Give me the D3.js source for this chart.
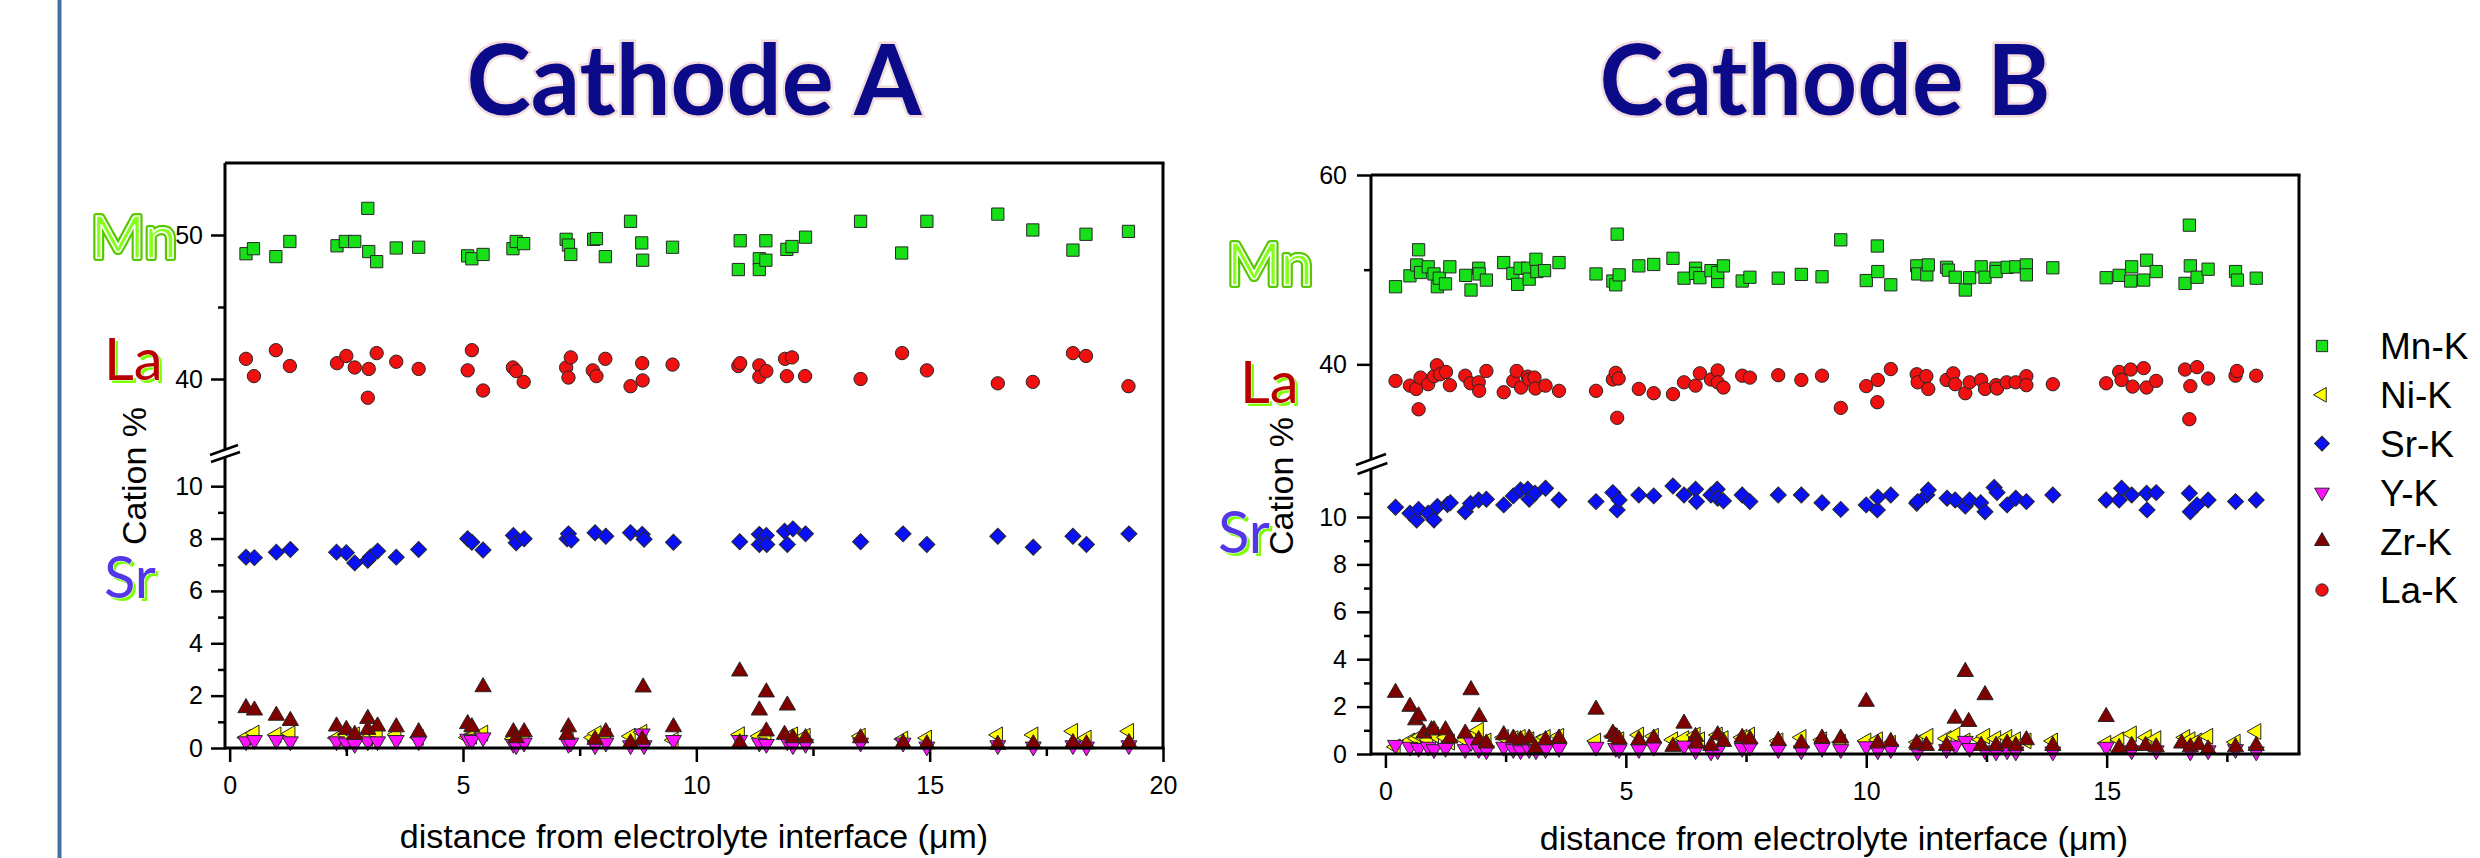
<!DOCTYPE html>
<html>
<head>
<meta charset="utf-8">
<script src="https://cdn.jsdelivr.net/npm/d3@7"></script>
<style>
  html, body { margin: 0; padding: 0; background: #fff; }
  svg { display: block; }
</style>
</head>
<body>
<svg id="chart" width="2480" height="858"></svg>
<script>
// ---- Cathode A (x in µm, cation %) ----
const aMn = [[0.35,48.7],[0.51,49.05],[0.99,48.5],[1.29,49.55],[2.30,49.25],[2.48,49.55],[2.68,49.55],[2.96,51.85],[2.98,48.85],[3.15,48.15],[3.57,49.1],[4.05,49.15],[5.10,48.55],[5.19,48.35],[5.43,48.65],[6.07,49.05],[6.14,49.55],[6.30,49.4],[7.21,49.7],[7.26,49.3],[7.31,48.65],[7.80,49.7],[7.86,49.75],[8.05,48.5],[8.59,50.95],[8.83,49.45],[8.85,48.25],[9.49,49.15],[10.94,49.6],[10.90,47.6],[11.35,48.35],[11.35,47.6],[11.49,49.6],[11.49,48.25],[11.94,49.0],[12.05,49.2],[12.34,49.85],[13.52,50.95],[14.40,48.75],[14.94,50.95],[16.46,51.45],[17.21,50.35],[18.07,48.95],[18.35,50.05],[19.26,50.25]]
const aLa = [[0.35,41.4],[0.52,40.2],[0.99,42.0],[1.29,40.9],[2.30,41.1],[2.50,41.6],[2.68,40.8],[2.96,38.7],[2.98,40.7],[3.15,41.8],[3.57,41.2],[4.05,40.7],[5.10,40.6],[5.19,42.0],[5.43,39.2],[6.07,40.8],[6.14,40.55],[6.30,39.8],[7.21,40.8],[7.26,40.1],[7.31,41.5],[7.78,40.6],[7.86,40.2],[8.05,41.4],[8.59,39.5],[8.84,41.1],[8.85,39.9],[9.49,41.0],[10.90,40.9],[10.94,41.1],[11.35,40.95],[11.35,40.15],[11.50,40.55],[11.90,41.4],[11.94,40.2],[12.05,41.5],[12.33,40.2],[13.52,40.0],[14.41,41.8],[14.94,40.6],[16.46,39.7],[17.21,39.8],[18.07,41.8],[18.35,41.6],[19.26,39.5]]
const aSr = [[0.35,7.29],[0.53,7.27],[1.00,7.48],[1.30,7.58],[2.29,7.48],[2.50,7.46],[2.68,7.07],[2.96,7.17],[3.02,7.30],[3.17,7.52],[3.57,7.29],[4.05,7.58],[5.10,7.99],[5.19,7.86],[5.43,7.56],[6.08,8.12],[6.14,7.84],[6.31,7.99],[7.23,7.99],[7.26,8.18],[7.32,7.94],[7.83,8.22],[8.06,8.09],[8.59,8.22],[8.84,8.16],[8.88,7.97],[9.51,7.86],[10.93,7.88],[11.35,8.16],[11.35,7.77],[11.50,8.12],[11.51,7.77],[11.89,8.28],[11.95,7.77],[12.07,8.37],[12.34,8.18],[13.52,7.88],[14.43,8.18],[14.94,7.77],[16.46,8.09],[17.22,7.67],[18.07,8.09],[18.36,7.77],[19.27,8.18]]
const aNi = [[0.35,0.40],[0.53,0.57],[1.00,0.50],[1.30,0.55],[2.29,0.38],[2.50,0.51],[2.68,0.50],[2.96,0.38],[3.17,0.50],[3.57,0.51],[4.05,0.40],[5.10,0.40],[5.19,0.45],[5.43,0.57],[6.08,0.35],[6.31,0.40],[7.26,0.35],[7.78,0.40],[7.86,0.55],[8.06,0.45],[8.59,0.45],[8.84,0.60],[9.51,0.30],[10.93,0.51],[11.35,0.45],[11.50,0.45],[11.95,0.40],[12.07,0.50],[12.34,0.45],[13.52,0.45],[14.43,0.34],[14.94,0.38],[16.46,0.50],[17.22,0.50],[18.07,0.64],[18.36,0.38],[19.27,0.64]]
const aY = [[0.35,0.25],[0.53,0.30],[1.00,0.30],[1.30,0.25],[2.29,0.25],[2.50,0.20],[2.68,0.15],[2.96,0.25],[3.17,0.25],[3.57,0.30],[4.05,0.25],[5.10,0.35],[5.19,0.30],[5.43,0.40],[6.08,0.15],[6.14,0.10],[6.31,0.20],[7.26,0.15],[7.31,0.20],[7.83,0.10],[8.06,0.20],[8.59,0.10],[8.84,0.55],[8.88,0.10],[9.51,0.30],[10.93,0.30],[11.35,0.20],[11.50,0.15],[11.95,0.25],[12.07,0.10],[12.34,0.15],[13.52,0.20],[14.43,0.20],[14.94,0.05],[16.46,0.10],[17.22,0.05],[18.07,0.10],[18.36,0.05],[19.27,0.10]]
const aZr = [[0.35,1.53],[0.53,1.44],[1.00,1.24],[1.30,1.04],[2.29,0.83],[2.50,0.70],[2.68,0.51],[2.96,1.12],[2.96,0.70],[3.17,0.83],[3.57,0.80],[4.05,0.61],[5.10,0.92],[5.19,0.80],[5.43,2.33],[6.08,0.61],[6.14,0.38],[6.31,0.61],[7.26,0.80],[7.23,0.51],[7.83,0.32],[8.06,0.61],[8.59,0.19],[8.84,0.32],[8.86,2.32],[9.51,0.80],[10.93,2.93],[10.93,0.19],[11.35,1.44],[11.50,2.13],[11.50,0.64],[11.89,0.51],[11.95,1.63],[12.07,0.38],[12.34,0.38],[13.52,0.38],[14.43,0.19],[14.94,0.15],[16.46,0.13],[17.22,0.15],[18.07,0.19],[18.36,0.15],[19.27,0.19]]

// ---- Cathode B ----
const bMn = [[0.21,48.2],[0.51,49.35],[0.65,50.5],[0.69,52.1],[0.73,49.7],[0.89,50.3],[1.01,49.55],[1.08,48.2],[1.12,49.1],[1.25,48.5],[1.34,50.3],[1.67,49.4],[1.78,47.85],[1.94,50.15],[1.95,49.55],[2.10,48.9],[2.46,50.75],[2.65,49.6],[2.75,48.45],[2.80,50.15],[2.96,50.15],[2.99,49.0],[3.13,51.1],[3.15,49.8],[3.31,49.9],[3.61,50.75],[4.38,49.55],[4.73,48.8],[4.79,48.4],[4.82,53.75],[4.86,49.45],[5.27,50.4],[5.58,50.55],[5.98,51.2],[6.21,49.1],[6.45,50.15],[6.45,49.6],[6.54,49.15],[6.77,49.9],[6.91,48.75],[6.91,49.7],[7.03,50.4],[7.42,48.8],[7.58,49.2],[8.17,49.1],[8.65,49.5],[9.08,49.25],[9.47,53.15],[10.00,48.85],[10.23,52.5],[10.24,49.8],[10.51,48.4],[11.05,50.4],[11.07,49.55],[11.26,49.45],[11.29,50.5],[11.67,50.25],[11.71,49.95],[11.85,49.2],[12.06,47.85],[12.15,49.15],[12.39,50.3],[12.47,49.2],[12.70,50.15],[12.70,49.8],[12.93,50.25],[13.11,50.3],[13.33,50.5],[13.33,49.45],[13.88,50.2],[14.99,49.15],[15.26,49.4],[15.50,48.8],[15.52,50.3],[15.77,48.9],[15.83,51.0],[16.03,49.8],[16.63,48.55],[16.72,54.7],[16.74,50.4],[16.88,49.2],[17.11,50.05],[17.68,49.8],[17.72,48.9],[18.11,49.1]]
const bLa = [[0.21,38.25],[0.51,37.75],[0.64,37.4],[0.69,35.25],[0.73,38.6],[0.89,37.9],[1.01,38.75],[1.07,39.9],[1.14,38.95],[1.26,39.2],[1.34,37.8],[1.66,38.8],[1.77,38.0],[1.94,38.1],[1.95,37.2],[2.10,39.3],[2.46,37.05],[2.66,38.25],[2.73,39.3],[2.82,37.55],[2.96,38.7],[2.99,38.4],[3.10,38.6],[3.12,37.45],[3.33,37.75],[3.61,37.2],[4.38,37.2],[4.73,38.4],[4.79,39.1],[4.82,34.35],[4.85,38.5],[5.27,37.4],[5.58,36.95],[5.98,36.85],[6.21,38.1],[6.45,37.75],[6.54,39.05],[6.77,38.4],[6.91,39.35],[6.91,38.1],[7.03,37.55],[7.42,38.8],[7.58,38.6],[8.17,38.85],[8.65,38.35],[9.08,38.8],[9.47,35.4],[10.00,37.7],[10.23,36.0],[10.24,38.35],[10.51,39.5],[11.05,38.95],[11.07,38.1],[11.25,38.75],[11.29,37.4],[11.67,38.35],[11.81,39.05],[11.85,37.9],[12.06,36.95],[12.15,38.1],[12.39,38.35],[12.47,37.4],[12.70,37.8],[12.72,37.45],[12.92,38.1],[13.11,38.1],[13.33,38.75],[13.33,37.8],[13.88,37.9],[14.99,38.0],[15.26,39.2],[15.31,38.35],[15.50,39.45],[15.54,37.65],[15.77,39.6],[15.83,37.55],[16.03,38.25],[16.63,39.45],[16.72,34.2],[16.74,37.7],[16.88,39.7],[17.11,38.5],[17.68,38.8],[17.71,39.3],[18.11,38.8]]
const bSr = [[0.21,10.41],[0.51,10.16],[0.65,9.87],[0.69,10.32],[0.89,10.16],[1.01,9.87],[1.08,10.44],[1.29,10.53],[1.35,10.6],[1.66,10.22],[1.77,10.57],[1.94,10.72],[2.10,10.75],[2.46,10.51],[2.66,10.89],[2.81,11.14],[2.96,11.17],[2.99,10.75],[3.11,11.0],[3.33,11.21],[3.61,10.72],[4.38,10.65],[4.73,11.03],[4.82,10.30],[4.86,10.72],[5.27,10.93],[5.58,10.89],[5.98,11.31],[6.21,10.93],[6.45,11.17],[6.47,10.65],[6.77,10.93],[6.90,11.17],[6.91,10.79],[7.03,10.68],[7.42,10.93],[7.58,10.65],[8.17,10.93],[8.65,10.93],[9.08,10.6],[9.47,10.32],[10.00,10.51],[10.23,10.30],[10.24,10.83],[10.51,10.93],[11.05,10.58],[11.07,10.65],[11.26,10.93],[11.29,11.14],[11.68,10.79],[11.85,10.72],[12.06,10.46],[12.15,10.72],[12.38,10.6],[12.47,10.22],[12.66,11.25],[12.72,11.03],[12.93,10.51],[13.11,10.79],[13.33,10.65],[13.88,10.93],[14.99,10.72],[15.26,10.72],[15.31,11.21],[15.52,10.93],[15.83,11.0],[15.84,10.3],[16.03,11.03],[16.72,11.0],[16.74,10.22],[16.88,10.51],[17.11,10.72],[17.68,10.65],[18.11,10.72]]
const bNi = [[0.21,0.30],[0.51,0.55],[0.65,0.65],[0.73,0.75],[0.89,0.60],[1.01,0.80],[1.25,0.70],[1.34,0.50],[1.66,0.60],[1.78,0.75],[1.94,1.00],[2.10,0.55],[2.46,0.70],[2.66,0.65],[2.81,0.70],[2.99,0.60],[3.13,0.50],[3.33,0.70],[3.61,0.75],[4.38,0.55],[4.73,0.75],[4.86,0.60],[5.27,0.80],[5.58,0.75],[5.98,0.60],[6.21,0.65],[6.45,0.80],[6.54,0.60],[6.91,0.80],[7.03,0.65],[7.42,0.70],[7.58,0.80],[8.17,0.55],[8.65,0.70],[9.08,0.60],[9.47,0.50],[10.00,0.55],[10.24,0.60],[10.51,0.45],[11.07,0.50],[11.29,0.75],[11.67,0.65],[11.85,0.80],[12.06,0.55],[12.39,0.60],[12.47,0.75],[12.70,0.65],[12.93,0.70],[13.11,0.60],[13.33,0.55],[13.88,0.55],[14.99,0.45],[15.26,0.60],[15.52,0.85],[15.83,0.70],[16.03,0.65],[16.63,0.70],[16.74,0.60],[16.88,0.55],[17.11,0.75],[17.68,0.50],[18.11,0.95]]
const bY = [[0.21,0.38],[0.51,0.30],[0.69,0.25],[0.89,0.30],[1.01,0.20],[1.25,0.25],[1.66,0.20],[1.78,0.50],[1.94,0.20],[2.10,0.15],[2.46,0.30],[2.66,0.20],[2.81,0.15],[2.99,0.20],[3.13,0.15],[3.33,0.20],[3.61,0.25],[4.38,0.30],[4.79,0.25],[4.86,0.20],[5.27,0.20],[5.58,0.30],[6.21,0.35],[6.45,0.15],[6.77,0.10],[6.91,0.15],[7.42,0.25],[7.58,0.30],[8.17,0.20],[8.65,0.15],[9.08,0.25],[9.47,0.20],[10.00,0.32],[10.24,0.15],[10.51,0.20],[11.07,0.10],[11.67,0.20],[11.85,0.35],[12.06,0.55],[12.15,0.25],[12.47,0.15],[12.70,0.10],[12.93,0.15],[13.11,0.10],[13.88,0.10],[14.99,0.30],[15.52,0.15],[16.03,0.15],[16.74,0.10],[17.11,0.15],[17.68,0.20],[18.11,0.10]]
const bZr = [[0.21,2.59],[0.51,2.0],[0.63,1.43],[0.69,1.60],[0.80,0.87],[0.96,1.01],[1.01,1.01],[1.25,1.01],[1.34,0.66],[1.66,0.87],[1.78,2.70],[1.95,1.57],[1.94,0.59],[2.10,0.45],[2.46,0.80],[2.66,0.66],[2.81,0.59],[2.99,0.66],[3.12,0.24],[3.33,0.59],[3.61,0.66],[4.38,1.88],[4.73,0.87],[4.79,0.73],[4.86,0.62],[5.27,0.59],[5.58,0.66],[5.98,0.31],[6.21,1.29],[6.45,0.73],[6.47,0.45],[6.77,0.35],[6.91,0.80],[7.03,0.52],[7.42,0.69],[7.58,0.62],[8.17,0.56],[8.65,0.45],[9.08,0.66],[9.47,0.66],[10.00,2.21],[10.24,0.45],[10.51,0.52],[11.07,0.38],[11.05,0.45],[11.25,0.35],[11.67,0.35],[11.85,1.50],[12.06,3.47],[12.13,1.36],[12.39,0.35],[12.47,2.49],[12.70,0.35],[12.93,0.45],[13.11,0.35],[13.33,0.59],[13.88,0.35],[14.99,1.57],[15.26,0.26],[15.52,0.35],[15.81,0.35],[16.03,0.29],[16.56,0.45],[16.74,0.29],[16.91,0.38],[17.11,0.20],[17.68,0.29],[18.11,0.35]]

// ---- axis ticks and labels ----
const xTicksA = [0, 5, 10, 15, 20], xTicksB = [0, 5, 10, 15]
const xMinor = [2.5, 7.5, 12.5, 17.5]
const upTicksA = [40, 50], upMinorA = [45]
const upTicksB = [40, 60], upMinorB = [50]
const loTicks = [0, 2, 4, 6, 8, 10]
const loMinorA = [1, 3, 5, 7, 9], loMinorB = [1, 3, 5, 7, 9, 11]
const legendLabels = ['Mn-K', 'Ni-K', 'Sr-K', 'Y-K', 'Zr-K', 'La-K']
const elemLabels = ['Mn', 'La', 'Sr']

const svg = d3.select('#chart')
const AX = '"Liberation Sans", Arial, sans-serif'

svg.append('rect').attr('width', 2480).attr('height', 858).attr('fill', '#fff')
svg.append('line')
    .attr('x1', 59.5).attr('x2', 59.5).attr('y1', 0).attr('y2', 858)
    .attr('stroke', '#4470a8').attr('stroke-width', 4)

// marker styles
const styles = {
  'Mn-K': {type: d3.symbolSquare,   size: 150, rot: 0,   fill: '#18e018'},
  'Ni-K': {type: d3.symbolTriangle, size: 110, rot: -90, fill: '#ffff00'},
  'Sr-K': {type: d3.symbolSquare,   size: 128, rot: 45,  fill: '#0a10f5'},
  'Y-K':  {type: d3.symbolTriangle, size: 110, rot: 180, fill: '#ff10ff'},
  'Zr-K': {type: d3.symbolTriangle, size: 115, rot: 0,   fill: '#800000'},
  'La-K': {type: d3.symbolCircle,   size: 140, rot: 0,   fill: '#f01010'}
}

function marks(g, data, x, y, name) {
  const s = styles[name]
  g.append('g').selectAll('path')
      .data(data)
    .join('path')
      .attr('d', d3.symbol().type(s.type).size(s.size))
      .attr('transform', d => `translate(${x(d[0])},${y(d[1])}) rotate(${s.rot})`)
      .attr('fill', s.fill)
      .attr('stroke', '#262626')
      .attr('stroke-width', 1)
}

const panels = [
  { title: 'Cathode A', titleX: 694, titleW: 455,
    xDom: [-0.1, 20], xRange: [225, 1163],
    upDom: [35, 55], upRange: [451, 163], loDom: [0, 11], loRange: [748, 460],
    upTicks: upTicksA, upMinor: upMinorA, loMinor: loMinorA, xTicks: xTicksA,
    axUpEnd: 449.6, axLoStart: 457,
    brk: [[210, 455, 238, 445], [211, 462, 240, 452]],
    up: {'Mn-K': aMn, 'La-K': aLa},
    lo: {'Sr-K': aSr, 'Ni-K': aNi, 'Y-K': aY, 'Zr-K': aZr},
    cation: [134, 476], xTitle: [694, 848], labPad: 8,
    labs: [[91, 258], [104, 380], [104, 598]] },
  { title: 'Cathode B', titleX: 1825, titleW: 451,
    xDom: [-0.3, 19], xRange: [1371, 2299],
    upDom: [30, 60], upRange: [459, 175], loDom: [0, 12], loRange: [754, 469.6],
    upTicks: upTicksB, upMinor: upMinorB, loMinor: loMinorB, xTicks: xTicksB,
    axUpEnd: 459.5, axLoStart: 469,
    brk: [[1356, 465, 1386, 454], [1357.5, 474, 1387.4, 463]],
    up: {'Mn-K': bMn, 'La-K': bLa},
    lo: {'Sr-K': bSr, 'Ni-K': bNi, 'Y-K': bY, 'Zr-K': bZr},
    cation: [1281, 486], xTitle: [1834, 850], labPad: 10,
    labs: [[1227, 285], [1240, 403], [1218, 553]] }
]

panels.forEach(p => {
  const x = d3.scaleLinear().domain(p.xDom).range(p.xRange)
  const yUp = d3.scaleLinear().domain(p.upDom).range(p.upRange)
  const yLo = d3.scaleLinear().domain(p.loDom).range(p.loRange)
  const L = p.xRange[0], R = p.xRange[1], T = p.upRange[1], B = p.loRange[0]
  const g = svg.append('g')

  // title
  g.append('text')
      .attr('x', p.titleX).attr('y', 115)
      .attr('text-anchor', 'middle')
      .attr('textLength', p.titleW).attr('lengthAdjust', 'spacingAndGlyphs')
      .attr('font-family', 'Lato, "Open Sans", sans-serif')
      .attr('font-weight', 700).attr('font-size', 98)
      .attr('fill', '#0b0b8a').attr('stroke', '#f3dcdc').attr('stroke-width', 5)
      .attr('paint-order', 'stroke')
      .text(p.title)

  // data
  Object.keys(p.up).forEach(k => marks(g, p.up[k], x, yUp, k))
  ;['Sr-K', 'Ni-K', 'Y-K', 'Zr-K'].forEach(k => marks(g, p.lo[k], x, yLo, k))

  // frame
  const line = (x1, y1, x2, y2, w) => g.append('line')
      .attr('x1', x1).attr('y1', y1).attr('x2', x2).attr('y2', y2)
      .attr('stroke', '#000').attr('stroke-width', w || 3)
  line(L, T, R + 1.5, T)
  line(R, T, R, B)
  line(L, B, R + 1.5, B)
  line(L, T, L, p.axUpEnd)
  line(L, p.axLoStart, L, B + 1.5)
  p.brk.forEach(b => line(b[0], b[1], b[2], b[3], 2.5))

  const style = a => a.call(s => s.select('.domain').remove())
      .call(s => s.selectAll('line').attr('stroke-width', 2.5))
      .attr('font-family', AX).attr('font-size', 25)
      .call(s => s.selectAll('text').attr('fill', '#000'))

  // y axes
  g.append('g').attr('transform', `translate(${L},0)`)
      .call(d3.axisLeft(yUp).tickValues(p.upTicks).tickSize(14).tickPadding(p.labPad).tickFormat(d3.format('d')))
      .call(style)
  g.append('g').attr('transform', `translate(${L},0)`)
      .call(d3.axisLeft(yUp).tickValues(p.upMinor).tickSize(7).tickFormat(''))
      .call(style)
  g.append('g').attr('transform', `translate(${L},0)`)
      .call(d3.axisLeft(yLo).tickValues(loTicks).tickSize(14).tickPadding(p.labPad).tickFormat(d3.format('d')))
      .call(style)
  g.append('g').attr('transform', `translate(${L},0)`)
      .call(d3.axisLeft(yLo).tickValues(p.loMinor).tickSize(7).tickFormat(''))
      .call(style)

  // x axis
  g.append('g').attr('transform', `translate(0,${B})`)
      .call(d3.axisBottom(x).tickValues(p.xTicks).tickSize(14).tickPadding(14).tickFormat(d3.format('d')))
      .call(style)
  g.append('g').attr('transform', `translate(0,${B})`)
      .call(d3.axisBottom(x).tickValues(xMinor).tickSize(8).tickFormat(''))
      .call(style)

  // axis titles
  g.append('text')
      .attr('transform', `translate(${p.cation[0]},${p.cation[1]}) rotate(-90)`)
      .attr('text-anchor', 'middle').attr('dy', '0.35em')
      .attr('font-family', AX).attr('font-size', 34)
      .text('Cation %')
  g.append('text')
      .attr('x', p.xTitle[0]).attr('y', p.xTitle[1])
      .attr('text-anchor', 'middle')
      .attr('font-family', AX).attr('font-size', 34)
      .text('distance from electrolyte interface (\u03bcm)')

  // element labels (word-art style)
  const ef = 'Lato, "Open Sans", sans-serif'
  const [mn, la, sr] = p.labs
  g.append('text').attr('x', mn[0]).attr('y', mn[1])
      .attr('font-family', ef).attr('font-size', 58)
      .attr('fill', '#5fd000').attr('stroke', '#55c800').attr('stroke-width', 6)
      .attr('stroke-linejoin', 'round').text(elemLabels[0])
  g.append('text').attr('x', mn[0]).attr('y', mn[1])
      .attr('font-family', ef).attr('font-size', 58)
      .attr('fill', '#86ff1a').attr('stroke', '#ffffff').attr('stroke-width', 1.6)
      .text(elemLabels[0])
  ;[[la, '#b80000', elemLabels[1]], [sr, '#5236e8', elemLabels[2]]].forEach(([pos, col, t]) => {
    g.append('text').attr('x', pos[0] + 3).attr('y', pos[1] + 3)
        .attr('font-family', ef).attr('font-size', 58)
        .attr('fill', '#7cff00').text(t)
    g.append('text').attr('x', pos[0]).attr('y', pos[1])
        .attr('font-family', ef).attr('font-size', 58)
        .attr('fill', col).attr('stroke', '#fff').attr('stroke-width', 1.2)
        .attr('paint-order', 'stroke').text(t)
  })
})

// legend (Cathode B)
const legend = svg.append('g')
const rowY = d3.scaleLinear().domain([0, legendLabels.length - 1]).range([346, 590])
legendLabels.forEach((k, i) => {
  const s = styles[k]
  legend.append('path')
      .attr('d', d3.symbol().type(s.type).size(s.size * 0.85)())
      .attr('transform', `translate(2322,${rowY(i)}) rotate(${s.rot})`)
      .attr('fill', s.fill).attr('stroke', '#262626').attr('stroke-width', 1)
  legend.append('text')
      .attr('x', 2380).attr('y', rowY(i)).attr('dy', '0.36em')
      .attr('font-family', AX).attr('font-size', 37)
      .text(k)
})
</script>
</body>
</html>
